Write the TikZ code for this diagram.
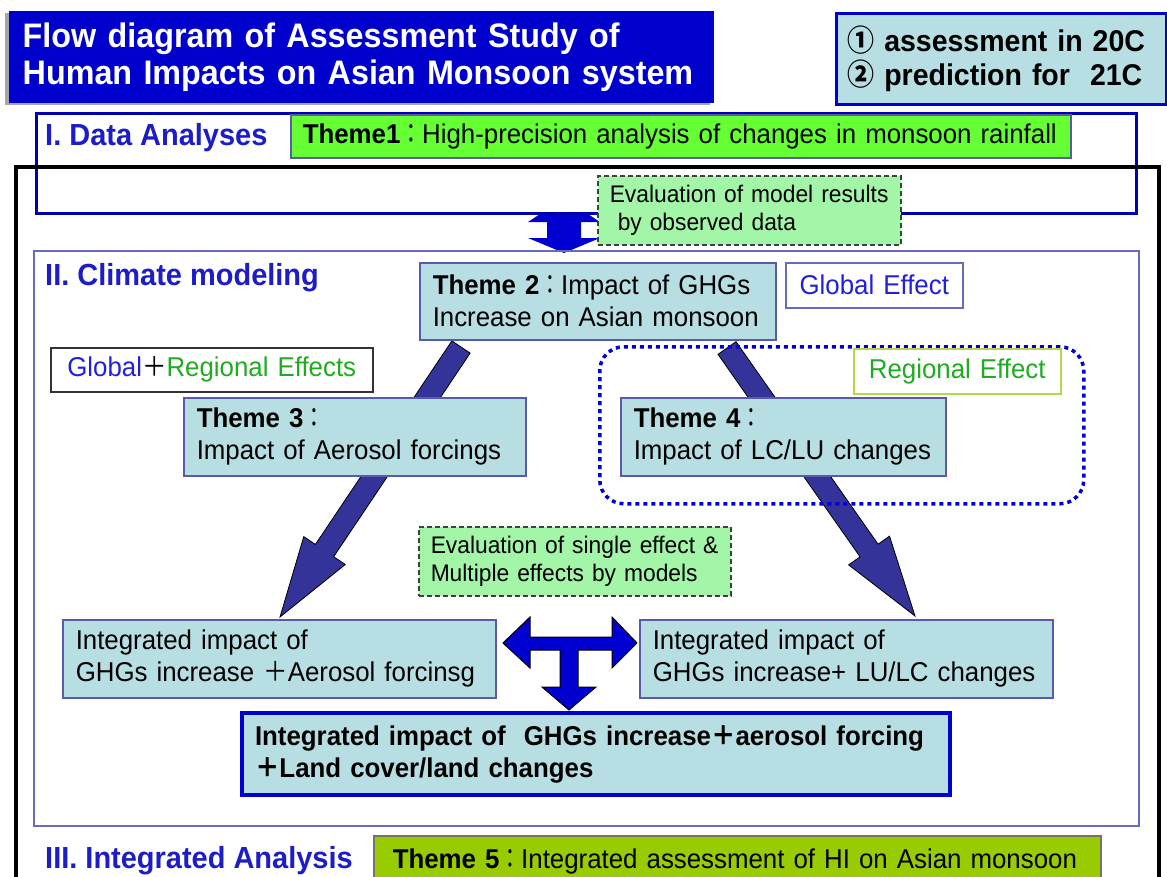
\documentclass[tikz,border=0pt]{standalone}
\usepackage{fontspec}
\setmainfont{Liberation Sans}[FakeStretch=0.95]
\newfontfamily\cjk{Noto Sans CJK JP}[FakeStretch=0.8]
\newfontfamily\cjkw{Noto Sans CJK JP}[FakeStretch=0.9]
\usetikzlibrary{calc}

\definecolor{titleblue}{HTML}{0000CC}
\definecolor{themefill}{HTML}{B7DEE2}
\definecolor{boxline}{HTML}{5A5AAA}
\definecolor{secblue}{HTML}{1C1CC8}
\definecolor{secline}{HTML}{6A6ABC}
\definecolor{fatfill}{HTML}{333399}
\definecolor{tblue}{HTML}{0000D0}
\definecolor{limegreen}{HTML}{66FF33}
\definecolor{evalfill}{HTML}{A3F5A8}
\definecolor{olive}{HTML}{99CC00}
\definecolor{regreen}{HTML}{22AA22}
\definecolor{regline}{HTML}{B4D84C}
\definecolor{globblue}{HTML}{2020DD}

\newcommand\ftitle{\fontsize{34}{37}\selectfont\bfseries}
\newcommand\fcorner{\fontsize{30}{34}\selectfont\bfseries}
\newcommand\fsec{\fontsize{30.5}{32}\selectfont\bfseries}
\newcommand\fbody{\fontsize{27.2}{32}\selectfont}
\newcommand\feval{\fontsize{24}{28}\selectfont}
\newcommand\circnum[1]{{\cjkw\bfseries\fontsize{30}{34}\selectfont #1}}

% broad arrow from #1 (tail centre) to #2 (tip)
\newcommand\fatarrow[2]{%
  \coordinate (#1hb) at ($(#2)!80pt!(#1)$);
  \path[fatarrowstyle]
    ($(#1)!11pt!90:(#2)$) -- ($(#1hb)!11pt!90:(#2)$) -- ($(#1hb)!25pt!90:(#2)$)
    -- (#2) -- ($(#1hb)!25pt!-90:(#2)$) -- ($(#1hb)!11pt!-90:(#2)$)
    -- ($(#1)!11pt!-90:(#2)$) -- cycle;}

\tikzset{
  box/.style={anchor=north west, align=left, inner xsep=13pt, inner ysep=0pt, line width=1.5pt},
  tbox/.style={box, draw=boxline, fill=themefill, font=\fbody},
  evalbox/.style={box, draw=black!75, fill=evalfill, dash pattern=on 5pt off 3pt, font=\feval, inner xsep=12pt},
  seclabel/.style={anchor=base west, inner sep=0pt, text=secblue, font=\fsec},
  fatarrowstyle/.style={fill=fatfill, draw=black, line width=0.8pt, line join=miter},
  blockarrow/.style={fill=tblue, draw=black, line width=1pt, line join=miter},
}

\begin{document}
\begin{tikzpicture}[x=1pt,y=-1pt]
\useasboundingbox (0,0) rectangle (1167,876);
\clip (0,0) rectangle (1167,876);

% heading
\fill[black!35] (5,13) rectangle (710,105);
\node[box, fill=titleblue, text=white, font=\ftitle, inner xsep=14pt,
      text width=677pt, minimum height=92pt] (title) at (8,10)
  {Flow diagram of Assessment Study of\\Human Impacts on Asian Monsoon system};

\node[box, draw=tblue, fill=themefill, line width=2.5pt, font=\fcorner, inner xsep=11pt,
      text width=308pt, minimum height=91pt] (periods) at (835,12)
  {\circnum{①} assessment in 20C\\\circnum{②} prediction for~ 21C};

% link between data analyses and modelling
\coordinate (obsA) at (564,198);
\path[fill=tblue] (obsA) -- (600,222) -- (581,222) -- (581,238) -- (600,238) -- (564,253)
  -- (528,238) -- (547,238) -- (547,222) -- (528,222) -- cycle;

% I. data analyses
\node[draw=tblue!85!black, fill=white, line width=2.5pt, anchor=north west, inner sep=0pt,
      minimum width=1100pt, minimum height=100pt] (secI) at (35,112) {};
\node[draw=black, line width=4pt, anchor=north west, inner sep=0pt,
      minimum width=1143pt, minimum height=760pt] (frame) at (14,165) {};
\node[seclabel] (labI) at (45,145) {I. Data Analyses};
\node[box, draw=boxline, fill=limegreen, font=\fbody, inner xsep=12pt,
      text width=756pt, minimum height=43pt] (theme1) at (290,114)
  {\textbf{Theme1}{\cjk ：}High-precision analysis of changes in monsoon rainfall};

% II. climate modelling
\node[draw=secline, line width=2pt, anchor=north west, inner sep=0pt,
      minimum width=1105pt, minimum height=575pt] (secII) at (33,250) {};
\node[seclabel] (labII) at (45,285) {II. Climate modeling};

\coordinate (a3s) at (461,347);
\coordinate (a3t) at (280,617);
\coordinate (a4s) at (727,348);
\coordinate (a4t) at (915,616);
\fatarrow{a3s}{a3t}
\fatarrow{a4s}{a4t}

\node[tbox, text width=330pt, minimum height=77pt] (theme2) at (419,262)
  {\textbf{Theme 2}{\cjk ：}Impact of GHGs\\Increase on Asian monsoon};
\node[box, draw=secline, fill=white, text=globblue, font=\fbody, align=center,
      text width=151pt, minimum height=45pt] (globeff) at (785,262) {Global Effect};
\node[box, draw=black!80, fill=white, font=\fbody, align=center,
      text width=296pt, minimum height=44pt] (globreg) at (50,347)
  {\textcolor{globblue}{Global}{\cjkw ＋}\textcolor{regreen}{Regional Effects}};

\node[draw=tblue, line width=3.5pt, dash pattern=on 4pt off 4pt, rounded corners=24pt,
      anchor=north west, inner sep=0pt, minimum width=484pt, minimum height=157pt] (regzone) at (598,345) {};
\node[box, draw=regline, fill=white, text=regreen, font=\fbody, align=center,
      text width=181pt, minimum height=45pt] (regeff) at (853,348) {Regional Effect};

\node[tbox, text width=316pt, minimum height=78pt] (theme3) at (183,397)
  {\textbf{Theme 3}{\cjk ：}\\Impact of Aerosol forcings};
\node[tbox, text width=299pt, minimum height=78pt] (theme4) at (620,397)
  {\textbf{Theme 4}{\cjk ：}\\Impact of LC/LU changes};

\node[evalbox, text width=279pt, minimum height=69pt] (evalobs) at (597,175)
  {Evaluation of model results\\\ by observed data};
\node[evalbox, text width=288pt, minimum height=69pt] (evalmod) at (418,526)
  {Evaluation of single effect \&\\Multiple effects by models};

\node[tbox, text width=407pt, minimum height=78pt] (intaer) at (62,619)
  {Integrated impact of\\GHGs increase {\cjkw ＋}Aerosol forcinsg};
\node[tbox, text width=387pt, minimum height=78pt] (intluc) at (639,619)
  {Integrated impact of\\GHGs increase+ LU/LC changes};

% three-way arrow joining the integrated studies
\coordinate (tl) at (503,643);
\coordinate (tr) at (637,643);
\coordinate (td) at (569,710);
\path[blockarrow] (tl) -- (530,617) -- (530,637) -- (612,637) -- (612,617) -- (tr)
  -- (612,668) -- (612,650) -- (578,650) -- (578,687) -- (596,687) -- (td)
  -- (542,687) -- (560,687) -- (560,650) -- (530,650) -- (530,668) -- cycle;

\node[box, draw=tblue, line width=4pt, fill=themefill, font=\fbody\bfseries,
      text width=682pt, minimum height=82pt] (intall) at (240,711)
  {Integrated impact of~ GHGs increase{\cjkw ＋}aerosol forcing\\{\cjkw ＋}Land cover/land changes};

% III. integrated analysis
\node[seclabel] (labIII) at (45,868) {III. Integrated Analysis};
\node[box, anchor=base west, draw=black!55, fill=olive, font=\fbody, inner xsep=19pt,
      text width=689pt, text height=32pt, text depth=40pt] (theme5) at (373,868)
  {\textbf{Theme 5}{\cjk ：}Integrated assessment of HI on Asian monsoon};
\end{tikzpicture}
\end{document}
